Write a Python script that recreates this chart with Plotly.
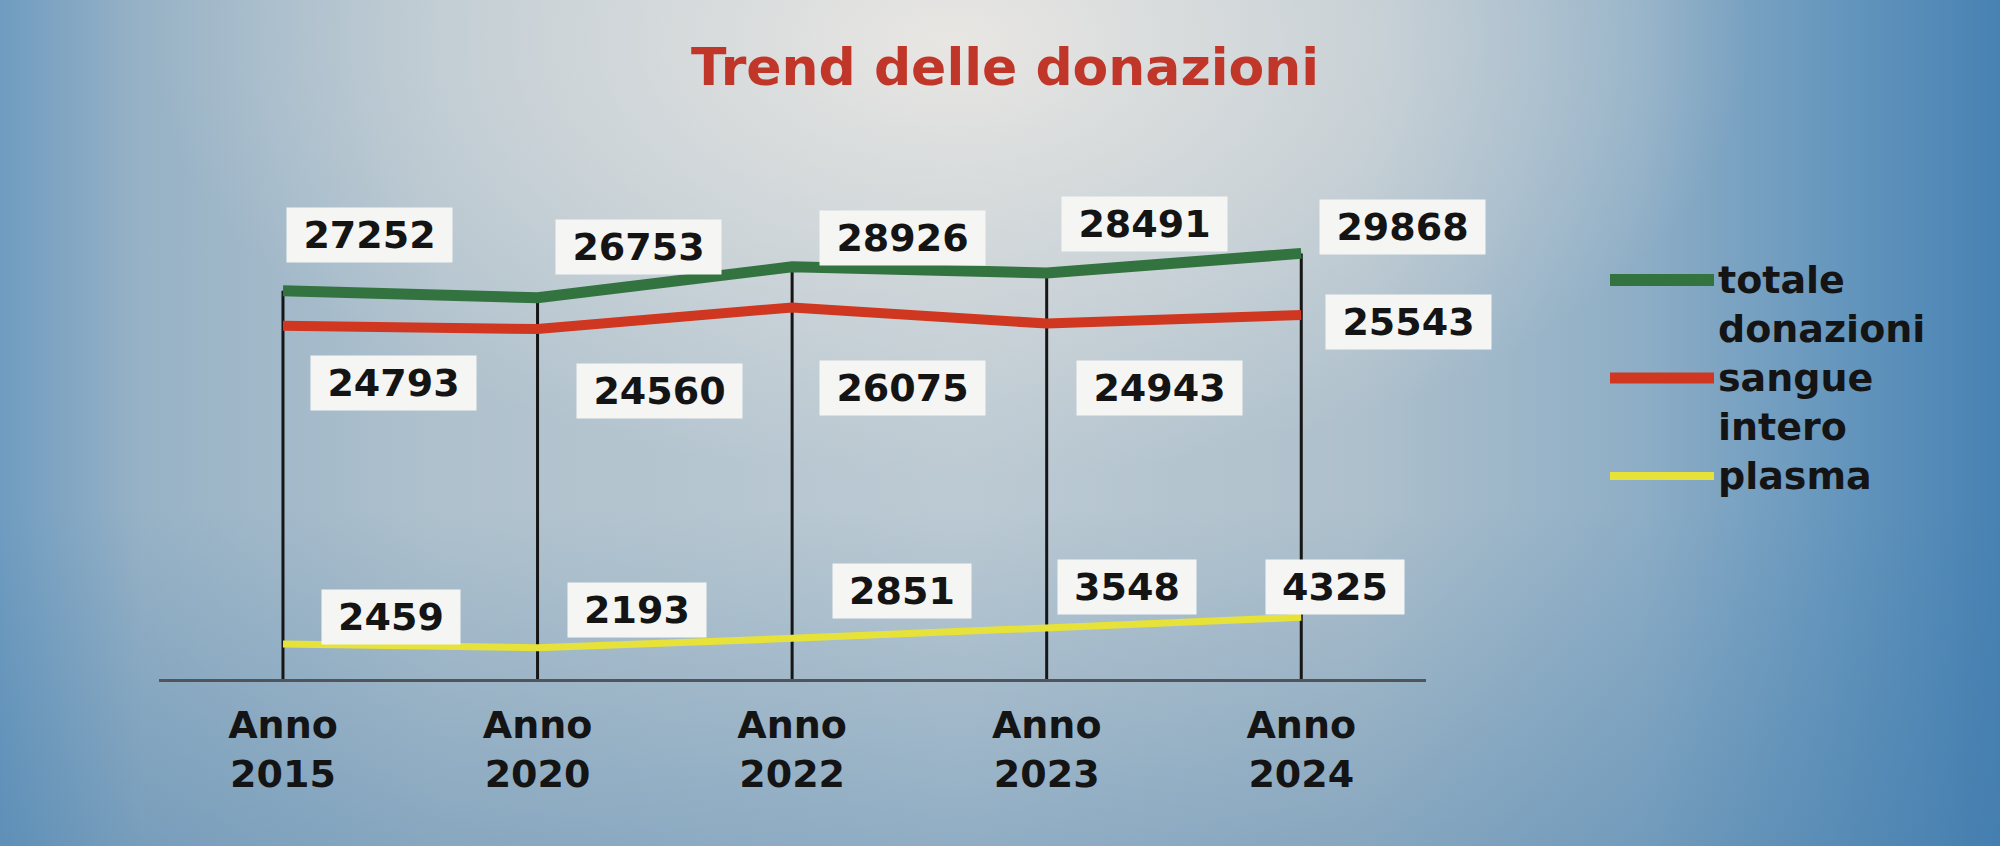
import base64
import plotly.graph_objects as go

anni = ["Anno 2015", "Anno 2020", "Anno 2022", "Anno 2023", "Anno 2024"]
totale = [27252, 26753, 28926, 28491, 29868]
sangue = [24793, 24560, 26075, 24943, 25543]
plasma = [2459, 2193, 2851, 3548, 4325]

nomi = ["totale\ndonazioni", "sangue\nintero", "plasma"]
colori = ["#337340", "#cf3720", "#e6e23a"]
spessori = [11, 10, 7]

# spostamenti delle etichette (px, destra / su)
off = [
    [(87, 56), (101, 51), (110, 29), (98, 49), (101, 26)],
    [(111, -57), (122, -62), (110, -81), (113, -64), (107, -7)],
    [(108, 27), (99, 38), (110, 47), (80, 41), (34, 30)],
]

W, H = 2000, 846
L, R, T, B = 159, 574, 109, 167
pw, ph = W - L - R, H - T - B

font_b = dict(family="DejaVu Sans", color="#141414", weight="bold")

# sfondo sfumato tipo slide fotografata
svg = f"""<svg xmlns='http://www.w3.org/2000/svg' width='{W}' height='{H}'>
<defs>
<linearGradient id='h' x1='0' y1='0' x2='1' y2='0'>
<stop offset='0' stop-color='#6f9cc0'/>
<stop offset='0.07' stop-color='#97b2c6'/>
<stop offset='0.22' stop-color='#afc1cd'/>
<stop offset='0.48' stop-color='#bccad3'/>
<stop offset='0.68' stop-color='#aec0cc'/>
<stop offset='0.82' stop-color='#8eaec6'/>
<stop offset='0.92' stop-color='#6596bd'/>
<stop offset='1' stop-color='#4782b3'/>
</linearGradient>
<radialGradient id='g' gradientUnits='userSpaceOnUse' cx='950' cy='40' r='800'
 gradientTransform='translate(950 40) scale(1 0.55) translate(-950 -40)'>
<stop offset='0' stop-color='#ebe8e4' stop-opacity='0.95'/>
<stop offset='0.5' stop-color='#e2e2e0' stop-opacity='0.55'/>
<stop offset='1' stop-color='#dcdedf' stop-opacity='0'/>
</radialGradient>
<linearGradient id='v' x1='0' y1='0' x2='0' y2='1'>
<stop offset='0.6' stop-color='#3f78a8' stop-opacity='0'/>
<stop offset='1' stop-color='#3f78a8' stop-opacity='0.35'/>
</linearGradient>
</defs>
<rect width='100%' height='100%' fill='url(#h)'/>
<rect width='100%' height='100%' fill='url(#g)'/>
<rect width='100%' height='100%' fill='url(#v)'/>
</svg>"""
bg = "data:image/svg+xml;base64," + base64.b64encode(svg.encode()).decode()

fig = go.Figure()

# linee verticali dalla base al totale
xs, ys = [], []
for a, t in zip(anni, totale):
    xs += [a, a, None]
    ys += [0, t, None]
fig.add_trace(go.Scatter(x=xs, y=ys, mode="lines", line=dict(color="#161616", width=3),
                         showlegend=False, hoverinfo="skip"))

serie = [totale, sangue, plasma]
for s, nome, col, w in zip(serie, nomi, colori, spessori):
    fig.add_trace(go.Scatter(x=anni, y=s, mode="lines", name=nome.replace("\n", " "),
                             line=dict(color=col, width=w), showlegend=False))

ann = []
for s, o in zip(serie, off):
    for a, v, (dx, dy) in zip(anni, s, o):
        ann.append(dict(x=a, y=v, text=str(v), showarrow=False, xshift=dx, yshift=dy,
                        bgcolor="#f5f5f3", width=27 * len(str(v)) + 28, height=52,
                        font=dict(size=38, **font_b)))

# legenda disegnata a mano
def px(x):
    return (x - L) / pw

def py(y):
    return (H - B - y) / ph

shapes = []
leg_y = [280, 378, 476]
fs_leg = 38
for nome, col, w, y in zip(nomi, colori, spessori, leg_y):
    shapes.append(dict(type="line", xref="paper", yref="paper", x0=px(1610), x1=px(1714),
                       y0=py(y), y1=py(y), line=dict(color=col, width=w + 1)))
    righe = nome.split("\n")
    yc = y + 0.5 * 1.3 * fs_leg * (len(righe) - 1)
    ann.append(dict(xref="paper", yref="paper", x=px(1716), y=py(yc), text="<br>".join(righe),
                    showarrow=False, xanchor="left", yanchor="middle", align="left",
                    font=dict(size=fs_leg, **font_b)))

fig.update_layout(
    width=W, height=H,
    margin=dict(l=L, r=R, t=T, b=B),
    paper_bgcolor="#9fb6c7", plot_bgcolor="rgba(0,0,0,0)",
    images=[dict(source=bg, xref="paper", yref="paper", x=-L / pw, y=1 + T / ph,
                 sizex=W / pw, sizey=H / ph, sizing="stretch", layer="below",
                 xanchor="left", yanchor="top")],
    title=dict(text="Trend delle donazioni", x=0.5025, xanchor="center", y=1 - 67 / H,
               yanchor="middle", font=dict(family="DejaVu Sans", size=52, color="#c0372a",
                                           weight="bold")),
    annotations=ann,
    shapes=shapes,
    showlegend=False,
)
fig.update_xaxes(type="category", range=[-0.487, 4.49], showgrid=False, zeroline=False,
                 showline=True, linecolor="#50555b", linewidth=3, ticks="",
                 tickvals=anni, ticktext=[a.replace(" ", "<br>") for a in anni],
                 tickfont=dict(size=38, **font_b), ticklabelstandoff=10)
fig.update_yaxes(range=[0, 40000], showgrid=False, zeroline=False, showticklabels=False,
                 showline=False)

fig.write_html("out.html", config={"displayModeBar": False},
               post_script="document.body.style.margin='0';")
